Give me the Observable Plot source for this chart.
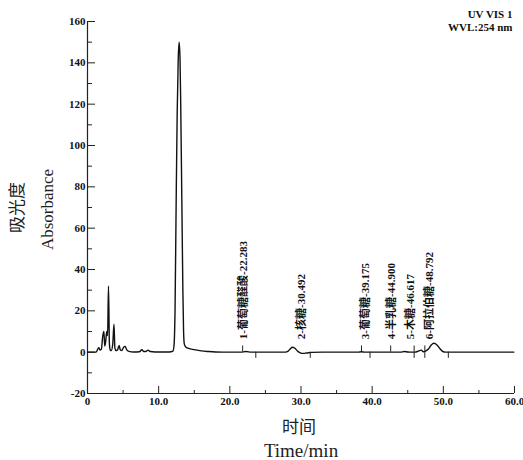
<!DOCTYPE html>
<html>
<head>
<meta charset="utf-8">
<script src="https://cdn.jsdelivr.net/npm/d3@7"></script>
<script src="https://cdn.jsdelivr.net/npm/@observablehq/plot@0.6"></script>
<style>
  html, body { margin: 0; padding: 0; background: #fff; }
  #chart { width: 523px; height: 460px; }
</style>
</head>
<body>
<div id="chart"></div>
<script>
// ---- data ----
const traceTime = [
  0, 1.2, 1.45, 1.6, 1.75, 1.95, 2.15, 2.3, 2.42, 2.55, 2.7, 2.82, 2.95, 3.08, 3.2, 3.35, 3.55, 3.72, 3.85, 4.0,
  4.2, 4.45, 4.6, 4.8, 5.1, 5.3, 5.5, 5.8, 6.5, 7.3, 7.65, 7.9, 8.2, 8.5, 8.8, 9.5, 10.5, 11.5,
  12.0, 12.15, 12.3, 12.45, 12.6, 12.75, 12.88, 13.0, 13.1, 13.25, 13.4, 13.5, 13.6, 13.8, 14.2, 15, 16, 17, 18,
  20, 21.5, 22.28, 23, 27.8, 28.2, 28.5, 28.8, 29.1, 29.5, 29.9, 30.3, 30.8, 31.5, 33,
  38, 38.5, 39, 44, 44.5, 45, 45.5, 46, 46.5, 46.9, 47.2, 47.5, 47.9, 48.3, 48.7, 49.1, 49.5, 49.9, 50.3, 59.9
];
const traceAbs = [
  0, 0, 1.5, 2.2, 1, 1.5, 8, 10, 3, 5, 10, 8, 32, 4, 1, 0.8, 4, 13.5, 2, 0.8,
  1, 3.3, 1.2, 0.8, 2.5, 2.8, 1.2, 0.4, 0.1, 0.2, 1.2, 0.3, 0.3, 1.0, 0.3, 0.1, 0.1, 0.1,
  0.5, 3, 20, 70, 115, 142, 150, 142, 120, 75, 30, 10, 4, 2.5, 1.8, 1.2, 0.6, 0.3, 0.1,
  0, 0, 0.3, 0, 0, 0.5, 1.6, 2.4, 2.0, 0.6, -0.3, -0.6, -0.4, -0.1, 0,
  0, 0.2, 0, 0, 0.3, 0.1, 0, 0, 0.5, 1.0, 0.2, 0.5, 1.5, 3.5, 4.3, 3.5, 1.8, 0.4, 0, 0
];

// retention times as printed, and where the printed labels sit along the time axis
const peakTimes = [22.283, 30.492, 39.175, 44.900, 46.617, 48.792];
const peakLabelAt = [21.9, 30.1, 39.0, 42.75, 45.45, 48.1];
const peakLabels = [
  "1-葡萄糖醛酸-22.283",
  "2-核糖-30.492",
  "3-葡萄糖-39.175",
  "4-半乳糖-44.900",
  "5-木糖-46.617",
  "6-阿拉伯糖-48.792"
];

// integration markers on the baseline
const markerUp = [21.8, 38.5, 42.6, 45.9, 47.4];
const markerDown = [23.65, 31.3, 39.7, 45.9, 47.4, 50.7];

const xTicks = [0, 10, 20, 30, 40, 50, 60];
const xTickLabels = ["0", "10.0", "20.0", "30.0", "40.0", "50.0", "60.0"];
const xMinor = [5, 15, 25, 35, 45, 55];
const yTicks = [-20, 0, 20, 40, 60, 80, 100, 120, 140, 160];
const yTickLabels = ["-20", "0", "20", "40", "60", "80", "100", "120", "140", "160"];
const yMinor = [-10, 10, 30, 50, 70, 90, 110, 130, 150];

const headerLines = ["UV VIS 1", "WVL:254 nm"];
const xTitleCN = "时间";
const xTitleEN = "Time/min";
const yTitleCN = "吸光度";
const yTitleEN = "Absorbance";

// ---- build ----
const trace = traceTime.map((t, i) => ({t, v: traceAbs[i]}));
const peaks = peakTimes.map((t, i) => ({t, at: peakLabelAt[i], label: peakLabels[i]}));

const serif = "'Liberation Serif', 'Times New Roman', 'Noto Sans CJK SC', serif";
const cjk = "'Noto Sans CJK SC', 'Liberation Serif', serif";

const chart = Plot.plot({
  width: 523,
  height: 460,
  marginLeft: 87,
  marginRight: 9,
  marginTop: 21,
  marginBottom: 67,
  style: {fontFamily: serif, background: "#fff", color: "#111"},
  x: {domain: [0, 60], axis: null},
  y: {domain: [-20, 160], axis: null},
  marks: [
    // axes lines
    Plot.ruleX([0], {y1: -20, y2: 160, stroke: "#222", strokeWidth: 1.2}),
    Plot.ruleY([-20], {stroke: "#222", strokeWidth: 1.2}),
    // y ticks (inward)
    Plot.axisY(yTicks, {anchor: "left", label: null, tickSize: -8, tickPadding: 10, stroke: "#222",
      tickFormat: d => yTickLabels[yTicks.indexOf(d)], fontSize: 11, fontWeight: "bold", fill: "#111"}),
    Plot.axisY(yMinor, {anchor: "left", label: null, tickSize: -5, tickPadding: 10, stroke: "#222",
      tickFormat: () => ""}),
    // x ticks (inward)
    Plot.axisX(xTicks, {anchor: "bottom", label: null, tickSize: -7, tickPadding: 11, stroke: "#222",
      tickFormat: d => xTickLabels[xTicks.indexOf(d)], fontSize: 11, fontWeight: "bold", fill: "#111"}),
    Plot.axisX(xMinor, {anchor: "bottom", label: null, tickSize: -3, tickPadding: 11, stroke: "#222",
      tickFormat: () => ""}),
    // chromatogram trace
    Plot.line(trace, {x: "t", y: "v", stroke: "#111", strokeWidth: 1.4, curve: "monotone-x"}),
    // integration markers
    Plot.ruleX(markerUp, {y1: 0, y2: 3, stroke: "#222", strokeWidth: 1}),
    Plot.ruleX(markerDown, {y1: 0, y2: -3, stroke: "#222", strokeWidth: 1}),
    // peak labels
    Plot.text(peaks, {x: "at", y: 0, text: "label", rotate: -90, textAnchor: "start",
      lineAnchor: "middle", dy: -13, fontSize: 11, fontWeight: "bold", fill: "#111",
      fontFamily: serif}),
    // header top-right
    Plot.text([headerLines[0]], {frameAnchor: "top-right", textAnchor: "end", dx: -2, dy: -7, lineAnchor: "middle",
      fontSize: 11, fontWeight: "bold", fill: "#111"}),
    Plot.text([headerLines[1]], {frameAnchor: "top-right", textAnchor: "end", dx: -2, dy: 6, lineAnchor: "middle",
      fontSize: 11, fontWeight: "bold", fill: "#111"}),
    // axis titles
    Plot.text([xTitleCN], {frameAnchor: "bottom", textAnchor: "middle", dx: -2, dy: 34, lineAnchor: "middle",
      fontSize: 17, fill: "#222", fontFamily: cjk}),
    Plot.text([xTitleEN], {frameAnchor: "bottom", textAnchor: "middle", dx: 0, dy: 57, lineAnchor: "middle",
      fontSize: 19, fill: "#222", fontFamily: serif}),
    Plot.text([yTitleCN], {frameAnchor: "left", textAnchor: "middle", dx: -70, dy: 0, rotate: -90, lineAnchor: "middle",
      fontSize: 17, fill: "#222", fontFamily: cjk}),
    Plot.text([yTitleEN], {frameAnchor: "left", textAnchor: "middle", dx: -40, dy: 2, rotate: -90, lineAnchor: "middle",
      fontSize: 17, fill: "#222", fontFamily: serif})
  ]
});
document.getElementById("chart").appendChild(chart);
</script>
</body>
</html>
